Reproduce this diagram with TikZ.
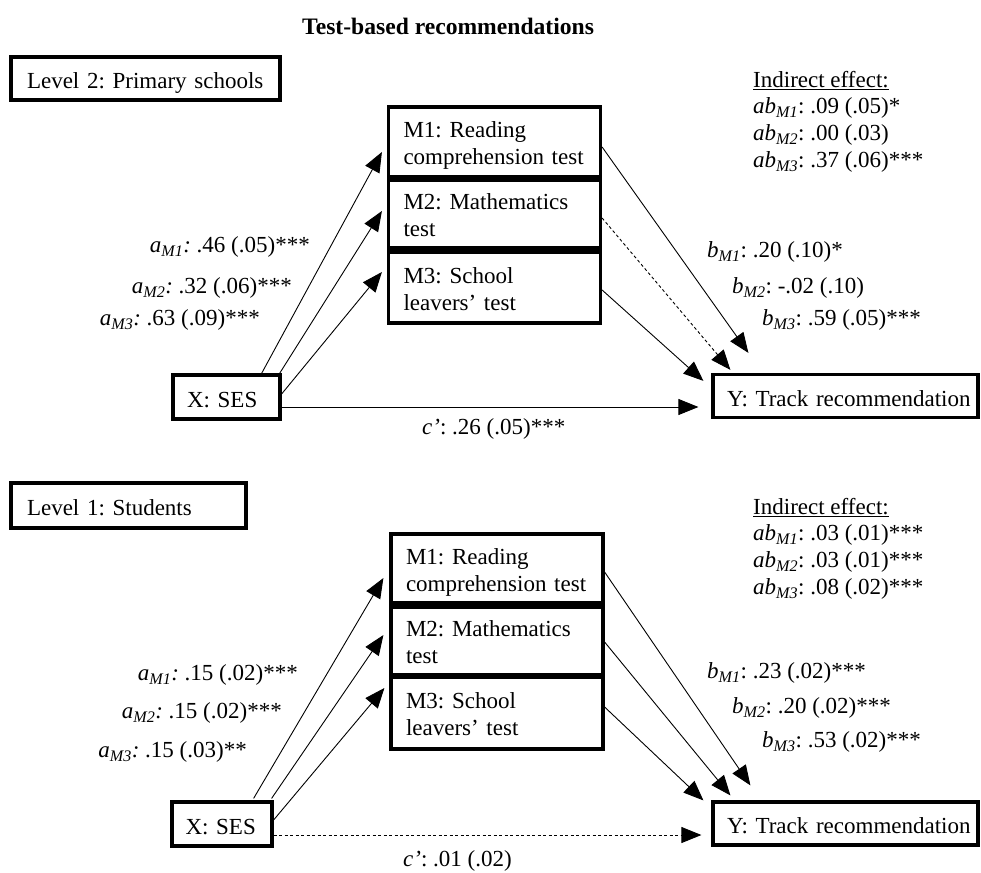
\documentclass[tikz,border=0pt]{standalone}
\usepackage{fontspec}
\setmainfont{Liberation Serif}
\usetikzlibrary{arrows.meta,calc}
\newcommand\mytopst{\rule{0pt}{23pt}}
\newcommand\mybotst{\rule[-5pt]{0pt}{5pt}}
\tikzset{
  every node/.style={font=\fontsize{23}{27}\selectfont\frenchspacing, inner sep=0pt},
  onebox/.style={draw, line width=3.2pt, inner xsep=15pt, inner ysep=0pt, align=left, text height=25pt, text depth=5pt},
  mbox/.style={draw, line width=3.2pt, inner xsep=15pt, inner ysep=0pt, text width=182pt, align=left, minimum height=#1},
  arr/.style={line width=0.9pt, -{Triangle[length=20pt,width=16pt]}},
  dsh/.style={dash pattern=on 3pt off 2.5pt},
  lbl/.style={inner sep=0pt},
}
\begin{document}
\frenchspacing
\begin{tikzpicture}[x=1pt,y=1pt]
\useasboundingbox (0,0) rectangle (981,-872);

\node[anchor=west, font=\fontsize{23.6}{27}\selectfont\bfseries] (title) at (302,-26) {Test-based recommendations};

% ---------- Upper panel ----------
\node[onebox, text width=237pt, inner xsep=16pt, minimum height=43pt] (L2) at (145.5,-78.5) {\mbox{Level 2: Primary schools}};
\node[mbox=70pt] (M1) at (494.5,-142) {\mytopst M1: Reading\\comprehension test\mybotst};
\node[mbox=68pt] (M2) at (494.5,-214) {\mytopst M2: Mathematics\\test\mybotst};
\node[mbox=71pt] (M3) at (494.5,-287.5) {\mytopst M3: School\\leavers’ test\mybotst};
\node[onebox, text width=79pt, inner xsep=14pt, minimum height=44pt] (X) at (226.5,-397) {\mbox{X: SES}};
\node[onebox, text width=237pt, inner xsep=14pt, minimum height=43pt] (Y) at (845.5,-396) {\mbox{Y: Track recommendation}};

\draw[arr] ($(X.north east)+(-20,0)$) -- ($(M1.west)+(-5,-10)$);
\draw[arr] ($(X.north east)+(-2,0)$) -- ($(M2.west)+(-5,3)$);
\draw[arr] ($(X.east)+(0,3)$) -- ($(M3.west)+(-5,15.5)$);
\draw[arr] ($(M1.east)+(0,-5)$) -- ($(Y.north west)+(37,20)$);
\draw[arr,dsh] ($(M2.east)+(0,-4)$) -- ($(Y.north west)+(19,3)$);
\draw[arr] ($(M3.east)+(0,-2.5)$) -- ($(Y.north west)+(-8,-8)$);
\draw[arr] ($(X.east)+(0,-10)$) -- ($(X.east -| Y.west)+(-13,-10)$);

\node[lbl, anchor=east] (a1) at (310,-247) {\textit{a}\textsubscript{\textit{M1}}\textit{:} .46 (.05)***};
\node[lbl, anchor=east] (a2) at (292,-288) {\textit{a}\textsubscript{\textit{M2}}\textit{:} .32 (.06)***};
\node[lbl, anchor=east] (a3) at (260,-320) {\textit{a}\textsubscript{\textit{M3}}\textit{:} .63 (.09)***};
\node[lbl, anchor=west] (b1) at (707,-252) {\textit{b}\textsubscript{\textit{M1}}: .20 (.10)*};
\node[lbl, anchor=west] (b2) at (732,-288) {\textit{b}\textsubscript{\textit{M2}}: -.02 (.10)};
\node[lbl, anchor=west] (b3) at (762,-320) {\textit{b}\textsubscript{\textit{M3}}: .59 (.05)***};
\node[lbl, anchor=west] (c1) at (422,-429) {\textit{c’}: .26 (.05)***};
\node[lbl, anchor=west] (ie1) at (753,-81) {\underline{Indirect effect:}};
\node[lbl, anchor=west] (ab1) at (753,-108) {\textit{ab}\textsubscript{\textit{M1}}: .09 (.05)*};
\node[lbl, anchor=west] (ab2) at (753,-135) {\textit{ab}\textsubscript{\textit{M2}}: .00 (.03)};
\node[lbl, anchor=west] (ab3) at (753,-162) {\textit{ab}\textsubscript{\textit{M3}}: .37 (.06)***};

% ---------- Lower panel ----------
\node[onebox, text width=203pt, inner xsep=16pt, minimum height=45pt] (L1) at (128.5,-505.5) {\mbox{Level 1: Students}};
\node[mbox=69pt] (M4) at (497,-568.5) {\mytopst M1: Reading\\comprehension test\mybotst};
\node[mbox=68pt] (M5) at (497,-641) {\mytopst M2: Mathematics\\test\mybotst};
\node[mbox=72pt] (M6) at (497,-713) {\mytopst M3: School\\leavers’ test\mybotst};
\node[onebox, text width=73pt, inner xsep=13.5pt, minimum height=44pt] (X2) at (222,-824) {\mbox{X: SES}};
\node[onebox, text width=237pt, inner xsep=14pt, minimum height=43pt] (Y2) at (845.5,-823.5) {\mbox{Y: Track recommendation}};

\draw[arr] ($(X2.north east)+(-20,2)$) -- ($(M4.west)+(-6,-9.5)$);
\draw[arr] ($(X2.north east)+(-2,2)$) -- ($(M5.west)+(-6,6)$);
\draw[arr] ($(X2.east)+(0,4)$) -- ($(M6.west)+(-5,25)$);
\draw[arr] ($(M4.east)+(0,-3.5)$) -- ($(Y2.north west)+(39,15)$);
\draw[arr] ($(M5.east)+(0,-1)$) -- ($(Y2.north west)+(19,5)$);
\draw[arr] ($(M6.east)+(0,6)$) -- ($(Y2.north west)+(-8,0)$);
\draw[arr,dsh] ($(X2.east)+(0,-11)$) -- ($(X2.east -| Y2.west)+(-10,-11)$);

\node[lbl, anchor=east] (a4) at (298,-675) {\textit{a}\textsubscript{\textit{M1}}\textit{:} .15 (.02)***};
\node[lbl, anchor=east] (a5) at (282,-713) {\textit{a}\textsubscript{\textit{M2}}\textit{:} .15 (.02)***};
\node[lbl, anchor=east] (a6) at (247,-752) {\textit{a}\textsubscript{\textit{M3}}\textit{:} .15 (.03)**};
\node[lbl, anchor=west] (b4) at (707,-673) {\textit{b}\textsubscript{\textit{M1}}: .23 (.02)***};
\node[lbl, anchor=west] (b5) at (732,-708) {\textit{b}\textsubscript{\textit{M2}}: .20 (.02)***};
\node[lbl, anchor=west] (b6) at (762,-742) {\textit{b}\textsubscript{\textit{M3}}: .53 (.02)***};
\node[lbl, anchor=west] (c2) at (403,-861) {\textit{c’}: .01 (.02)};
\node[lbl, anchor=west] (ie2) at (753,-508) {\underline{Indirect effect:}};
\node[lbl, anchor=west] (ab4) at (753,-535) {\textit{ab}\textsubscript{\textit{M1}}: .03 (.01)***};
\node[lbl, anchor=west] (ab5) at (753,-562) {\textit{ab}\textsubscript{\textit{M2}}: .03 (.01)***};
\node[lbl, anchor=west] (ab6) at (753,-589) {\textit{ab}\textsubscript{\textit{M3}}: .08 (.02)***};
\end{tikzpicture}
\end{document}
